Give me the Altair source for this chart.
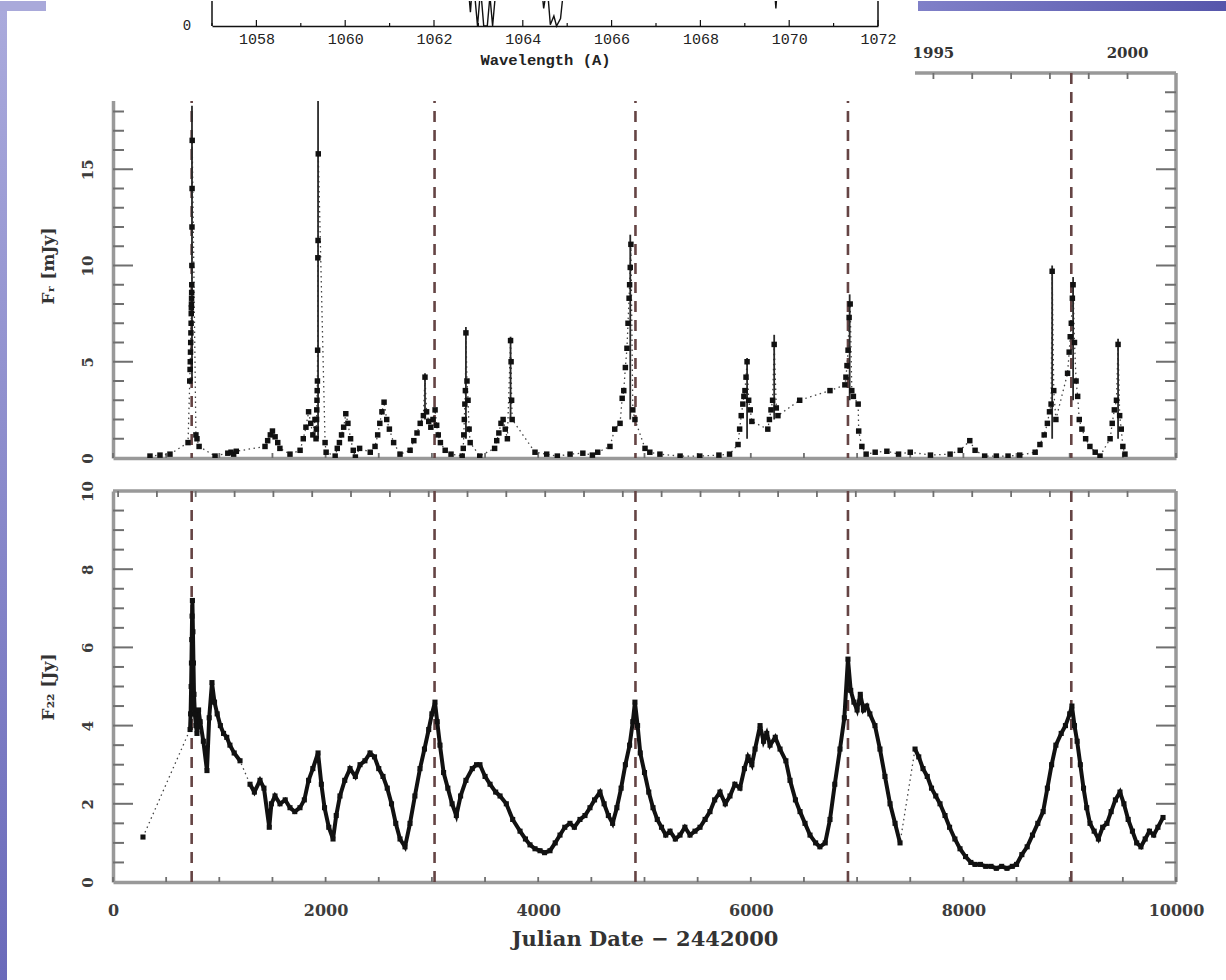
import altair as alt
import pandas as pd

# ---------------- data ----------------
# spectrum fragment (top strip)
spec_wave = [1057.0, 1062.75, 1062.82, 1062.88, 1062.98, 1063.05, 1063.12, 1063.20, 1063.26,
             1063.32, 1063.42, 1064.40, 1064.47, 1064.55, 1064.62, 1064.70, 1064.76, 1064.85,
             1064.95, 1069.65, 1069.70, 1069.75, 1072.0]
spec_flux = [2.0, 2.0, 0.55, 2.0, 0.0, 1.5, 0.0, 0.0, 1.2, 0.0, 2.0, 2.0, 0.7, 1.6, 0.05, 0.4,
             0.0, 0.3, 2.0, 2.0, 0.7, 2.0, 2.0]
spec_major = [1058, 1060, 1062, 1064, 1066, 1068, 1070, 1072]
spec_minor = [1057, 1059, 1061, 1063, 1065, 1067, 1069, 1071]

# upper panel (optical flux, mJy)
opt_day = [348, 442, 536, 706, 722, 725, 727, 729, 731, 733, 735, 736, 737, 738, 739, 740, 741,
           742, 743, 744, 745, 780, 790, 810, 960, 1080, 1110, 1135, 1160, 1430, 1455, 1480,
           1500, 1525, 1550, 1570, 1665, 1760, 1790, 1815, 1840, 1860, 1880, 1900, 1910, 1913,
           1915, 1917, 1919, 1921, 1923, 1925, 1927, 1929, 1931, 1995, 2005, 2090, 2110, 2130,
           2150, 2170, 2190, 2210, 2235, 2260, 2280, 2320, 2420, 2465, 2490, 2510, 2530, 2550,
           2575, 2600, 2640, 2700, 2795, 2830, 2860, 2890, 2920, 2935, 2950, 2970, 2990, 3010,
           3030, 3045, 3060, 3080, 3125, 3180, 3285, 3295, 3300, 3305, 3310, 3315, 3320, 3330,
           3340, 3350, 3360, 3450, 3590, 3610, 3630, 3650, 3670, 3690, 3710, 3740, 3745, 3750,
           3755, 3970, 4080, 4180, 4300, 4420, 4510, 4560, 4675, 4720, 4770, 4790, 4805, 4820,
           4835, 4845, 4855, 4860, 4866, 4872, 4890, 4910, 5005, 5050, 5145, 5335, 5520, 5700,
           5800, 5880, 5895, 5910, 5925, 5935, 5945, 5955, 5965, 5980, 5995, 6010, 6160, 6175,
           6190, 6205, 6220, 6240, 6255, 6460, 6745, 6885, 6895, 6905, 6915, 6925, 6935, 6950,
           6965, 7010, 7015, 7045, 7085, 7170, 7280, 7390, 7500, 7690, 7875, 7970, 8060, 8110,
           8200, 8310, 8420, 8530, 8675, 8720, 8760, 8790, 8810, 8825, 8835, 8850, 8870, 8980,
           8995, 9005, 9015, 9025, 9032, 9045, 9060, 9075, 9090, 9115, 9150, 9190, 9240, 9285,
           9380, 9400, 9420, 9440, 9455, 9470, 9485, 9500, 9520]
opt_flux = [0.1, 0.15, 0.2, 0.8, 4.0, 4.6, 5.0, 5.5, 6.0, 6.5, 7.0, 7.5, 7.8, 8.0, 8.3, 8.6, 9.0,
            10.0, 12.0, 14.0, 16.5, 1.2, 1.0, 0.6, 0.1, 0.25, 0.3, 0.2, 0.35, 0.6, 0.9, 1.2,
            1.4, 1.1, 0.8, 0.5, 0.2, 0.4, 1.0, 1.6, 2.4, 1.8, 1.2, 2.0, 1.0, 1.5,
            2.0, 2.5, 3.0, 3.5, 4.0, 5.6, 10.4, 11.3, 15.8, 0.8, 0.3, 0.1, 0.5, 0.8,
            1.2, 1.6, 2.3, 1.8, 1.0, 0.4, 0.05, 0.5, 0.3, 0.6, 1.2, 1.8, 2.4, 2.9,
            2.0, 1.5, 0.8, 0.2, 0.4, 0.9, 1.3, 1.8, 2.2, 4.2, 2.4, 1.9, 1.6, 2.0,
            2.5, 1.7, 1.2, 0.8, 0.4, 0.2, 0.1, 0.5, 1.2, 2.0, 2.8, 3.5, 6.5, 4.0,
            3.0, 1.5, 0.8, 0.1, 0.5, 0.9, 1.3, 1.8, 2.0, 1.5, 1.0, 6.1, 5.0, 3.0,
            2.0, 0.3, 0.2, 0.1, 0.2, 0.25, 0.15, 0.3, 0.6, 1.5, 1.8, 3.1, 3.5, 4.7,
            5.7, 7.0, 8.3, 9.0, 9.9, 11.1, 2.5, 2.0, 0.5, 0.3, 0.2, 0.1, 0.1, 0.15,
            0.2, 0.7, 1.5, 2.2, 2.8, 3.2, 3.5, 4.2, 5.0, 3.0, 2.5, 1.9, 1.5, 2.0,
            2.5, 3.0, 5.9, 2.6, 2.2, 3.0, 3.5, 3.8, 4.2, 4.8, 5.6, 7.3, 8.0, 3.5,
            3.2, 2.8, 1.4, 0.6, 0.2, 0.3, 0.35, 0.2, 0.3, 0.15, 0.2, 0.4, 0.9, 0.4,
            0.1, 0.1, 0.1, 0.15, 0.3, 0.7, 1.2, 1.8, 2.4, 2.8, 9.7, 3.5, 2.0, 4.4,
            5.5, 6.3, 7.0, 8.3, 9.0, 6.0, 4.0, 3.2, 2.0, 1.5, 1.0, 0.6, 0.3, 0.1,
            1.0, 1.8, 2.5, 3.0, 5.9, 2.2, 1.5, 0.6, 0.2]
err_day = [743, 1929, 2935, 3320, 3740, 4866, 5965, 6220, 6930, 8835, 9032, 9455]
err_lo = [4.0, 1.0, 2.0, 1.0, 2.0, 2.0, 1.0, 2.0, 3.0, 1.0, 3.0, 1.0]
err_hi = [18.3, 22.0, 4.4, 6.8, 6.3, 11.6, 5.2, 6.4, 8.5, 10.0, 9.4, 6.2]

# lower panel (radio flux, Jy)
rad_day = [282, 725, 730, 735, 738, 741, 744, 747, 752, 757, 762, 770, 780, 790, 805, 820, 850,
           884, 905, 931, 955, 980, 1010, 1040, 1070, 1100, 1140, 1195, 1289, 1330, 1383, 1420,
           1470, 1490, 1524, 1571, 1620, 1665, 1710, 1759, 1800, 1840, 1880, 1929, 1960, 1990,
           2030, 2070, 2100, 2135, 2180, 2230, 2280, 2324, 2370, 2418, 2460, 2500, 2540, 2580,
           2620, 2660, 2700, 2747, 2794, 2840, 2888, 2930, 2970, 3000, 3029, 3050, 3076, 3110,
           3150, 3190, 3230, 3270, 3320, 3380, 3420, 3452, 3500, 3547, 3600, 3641, 3700, 3760,
           3829, 3880, 3923, 3970, 4017, 4060, 4111, 4160, 4205, 4250, 4299, 4340, 4393, 4440,
           4487, 4530, 4581, 4620, 4660, 4700, 4740, 4780, 4820, 4860, 4890, 4910, 4935, 4960,
           5000, 5040, 5080, 5120, 5160, 5200, 5240, 5290, 5334, 5380, 5428, 5475, 5522, 5570,
           5616, 5660, 5710, 5760, 5804, 5850, 5898, 5940, 5974, 6010, 6040, 6087, 6120, 6150,
           6181, 6230, 6275, 6330, 6369, 6420, 6463, 6510, 6557, 6610, 6650, 6700, 6745, 6790,
           6839, 6880, 6914, 6940, 6970, 7000, 7030, 7060, 7090, 7120, 7168, 7215, 7262, 7310,
           7357, 7404, 7545, 7580, 7620, 7660, 7700, 7740, 7780, 7827, 7870, 7920, 7968, 8020,
           8070, 8109, 8160, 8210, 8260, 8310, 8360, 8410, 8460, 8500, 8550, 8600, 8650, 8700,
           8750, 8790, 8830, 8870, 8920, 8960, 9000, 9021, 9045, 9070, 9100, 9130, 9160, 9191,
           9230, 9270, 9310, 9350, 9390, 9430, 9473, 9510, 9550, 9590, 9630, 9670, 9710, 9750,
           9790, 9830, 9878]
rad_flux = [1.15, 3.9, 4.3, 5.0, 5.6, 6.2, 6.8, 7.2, 6.4, 5.6, 4.8, 4.3, 4.0, 3.8, 4.4, 4.1, 3.6,
            2.85, 4.2, 5.1, 4.6, 4.3, 4.0, 3.8, 3.7, 3.5, 3.3, 3.1, 2.5, 2.3, 2.6, 2.4,
            1.4, 2.0, 2.2, 2.0, 2.1, 1.9, 1.8, 1.9, 2.1, 2.6, 2.9, 3.3, 2.5, 1.9,
            1.4, 1.1, 1.7, 2.2, 2.6, 2.9, 2.7, 3.0, 3.1, 3.3, 3.2, 2.9, 2.7, 2.4,
            2.0, 1.5, 1.1, 0.9, 1.5, 2.2, 2.9, 3.4, 3.9, 4.3, 4.6, 4.1, 3.5, 2.8,
            2.4, 2.0, 1.7, 2.2, 2.6, 2.9, 3.0, 3.0, 2.7, 2.5, 2.3, 2.2, 2.0, 1.6,
            1.3, 1.1, 0.95, 0.85, 0.8, 0.75, 0.8, 1.0, 1.2, 1.4, 1.5, 1.4, 1.6, 1.7,
            1.9, 2.1, 2.3, 2.0, 1.7, 1.5, 1.9, 2.4, 3.0, 3.5, 4.1, 4.6, 4.0, 3.3,
            2.8, 2.3, 1.9, 1.6, 1.4, 1.2, 1.3, 1.1, 1.2, 1.4, 1.2, 1.3, 1.4, 1.6,
            1.8, 2.1, 2.3, 2.0, 2.2, 2.5, 2.4, 2.9, 3.2, 3.0, 3.4, 4.0, 3.6, 3.8,
            3.5, 3.7, 3.4, 3.1, 2.6, 2.1, 1.8, 1.5, 1.2, 1.0, 0.9, 1.0, 1.6, 2.5,
            3.4, 4.2, 5.7, 4.9, 4.6, 4.4, 4.8, 4.4, 4.5, 4.3, 4.0, 3.4, 2.7, 2.0,
            1.5, 1.0, 3.4, 3.2, 2.9, 2.7, 2.4, 2.2, 2.0, 1.7, 1.4, 1.1, 0.85, 0.65,
            0.5, 0.45, 0.45, 0.4, 0.4, 0.35, 0.4, 0.35, 0.4, 0.45, 0.7, 0.9, 1.2, 1.5,
            1.8, 2.4, 3.0, 3.5, 3.8, 4.0, 4.3, 4.5, 4.0, 3.6, 3.0, 2.4, 1.9, 1.5,
            1.3, 1.1, 1.4, 1.5, 1.8, 2.1, 2.3, 2.0, 1.6, 1.3, 1.0, 0.9, 1.1, 1.3,
            1.2, 1.4, 1.65]

flare_day = [740, 3025, 4915, 6914, 9015]

x_tick_day = [0, 500, 1000, 1500, 2000, 2500, 3000, 3500, 4000, 4500, 5000, 5500, 6000, 6500,
              7000, 7500, 8000, 8500, 9000, 9500, 10000]
x_label_day = [0, 2000, 4000, 6000, 8000, 10000]
year_tick_day = [48, 413, 778, 1144, 1509, 1874, 2239, 2605, 2970, 3335, 3700, 4066, 4431, 4796,
                 5161, 5527, 5892, 6257, 6622, 6988, 7353, 7718, 8083, 8449, 8814, 9179, 9544]
year_label = ["1995", "2000"]
year_label_day = [7718, 9544]

opt_major = [5, 10, 15]
opt_minor = [1, 2, 3, 4, 6, 7, 8, 9, 11, 12, 13, 14, 16, 17, 18, 19]
rad_major = [2, 4, 6, 8]
rad_minor = [0.5, 1, 1.5, 2.5, 3, 3.5, 4.5, 5, 5.5, 6.5, 7, 7.5, 8.5, 9, 9.5]

# ---------------- layout / style ----------------
W, HF, H1, H2, GAP, LEFT = 1063, 39, 385, 391, 33, 113
SERIF = "DejaVu Serif"
MONO = "Liberation Mono"
FRAME = "#999999"
TICK = "#6f6f6f"
DASH = "#654444"
INK = "#111111"

dummy = pd.DataFrame({"a": [0]})


def mix(c0, c1, t):
    a = [int(c0[i:i + 2], 16) for i in (1, 3, 5)]
    b = [int(c1[i:i + 2], 16) for i in (1, 3, 5)]
    return "#" + "".join(f"{round(a[k] + (b[k] - a[k]) * t):02x}" for k in range(3))


STRIP_TOP, STRIP_BOT = "#ababdc", "#6a6aba"


def vgrad(y0, y1):
    return alt.LinearGradient(
        gradient="linear",
        stops=[alt.GradientStop(color=mix(STRIP_TOP, STRIP_BOT, y0 / 980), offset=0),
               alt.GradientStop(color=mix(STRIP_TOP, STRIP_BOT, y1 / 980), offset=1)],
        x1=0, x2=0, y1=0, y2=1)


def strip(img_top, rel_h):
    return alt.Chart(dummy).mark_rect(color=vgrad(img_top, img_top + rel_h)).encode(
        x=alt.value(-LEFT), x2=alt.value(-LEFT + 7), y=alt.value(0), y2=alt.value(rel_h))


# ---------------- spectrum fragment ----------------
fx = alt.Scale(domain=[1057, 1072], range=[99, 765], nice=False, zero=False)
fy = alt.Scale(domain=[0, 1], range=[25, 0], nice=False, zero=False)
f_axis = alt.Axis(
    values=spec_major, format="d", orient="bottom", offset=-14, domainColor=INK,
    domainWidth=1.5, ticks=False, labelFont=MONO, labelFontSize=15, labelFontWeight="normal",
    labelColor="#222", labelPadding=5, labelFlush=False, title="Wavelength (A)",
    titleFont=MONO, titleFontSize=15.5, titleFontWeight="bold", titleColor="#222",
    titlePadding=6)


def FX():
    return alt.X("w:Q", scale=fx, axis=f_axis)


spec_df = pd.DataFrame({"w": spec_wave, "f": spec_flux})
spec_line = alt.Chart(spec_df).mark_line(color=INK, strokeWidth=1.4, clip=True).encode(
    x=FX(), y=alt.Y("f:Q", scale=fy, axis=None))
spec_major_t = alt.Chart(pd.DataFrame({"w": spec_major})).mark_rule(color=INK, strokeWidth=1.2).encode(
    x=FX(), y=alt.value(25), y2=alt.value(19))
spec_minor_t = alt.Chart(pd.DataFrame({"w": spec_minor})).mark_rule(color=INK, strokeWidth=1.2).encode(
    x=FX(), y=alt.value(25), y2=alt.value(22))
spec_sides = alt.Chart(pd.DataFrame({"w": [1057, 1072]})).mark_rule(color=INK, strokeWidth=1.5).encode(
    x=FX(), y=alt.value(0), y2=alt.value(25))
spec_zero = alt.Chart(pd.DataFrame({"w": [1057], "t": ["0"]})).mark_text(
    font=MONO, fontSize=14, color="#222", dx=-25, align="center", baseline="middle").encode(
    x=FX(), y=alt.value(25), text="t:N")
corner_patch = alt.Chart(dummy).mark_rect(color="#a9a9da").encode(
    x=alt.value(-LEFT), x2=alt.value(-LEFT + 46), y=alt.value(0), y2=alt.value(10))
top_band = alt.Chart(dummy).mark_rect(color=alt.LinearGradient(
    gradient="linear",
    stops=[alt.GradientStop(color="#8080c8", offset=0), alt.GradientStop(color="#5656ab", offset=1)],
    x1=0, x2=1, y1=0, y2=0)).encode(
    x=alt.value(918 - LEFT), x2=alt.value(1226 - LEFT), y=alt.value(0), y2=alt.value(10))

frag = alt.layer(spec_line, spec_major_t, spec_minor_t, spec_sides, spec_zero,
                 strip(0, HF + GAP), corner_patch, top_band).properties(width=W, height=HF)

# ---------------- shared pieces for the two panels ----------------
xs = alt.Scale(domain=[0, 10000], nice=False, zero=False)


def panel(ys, ytop, H, ax_x, ax_y, majors, minors, data_layers, extra_layers, strip_top):
    def X(field="day"):
        return alt.X(f"{field}:Q", scale=xs, axis=ax_x)

    def Y(field):
        return alt.Y(f"{field}:Q", scale=ys, axis=ax_y)

    layers = []
    # frame: right + top
    layers.append(alt.Chart(dummy).mark_rule(color=FRAME, strokeWidth=3.5).encode(
        x=alt.X(datum=10000, scale=xs, axis=ax_x), y=alt.Y(datum=0, scale=ys, axis=ax_y),
        y2=alt.Y2(datum=ytop)))
    layers.append(alt.Chart(dummy).mark_rule(color=FRAME, strokeWidth=3.5).encode(
        x=alt.X(datum=0, scale=xs, axis=ax_x), x2=alt.X2(datum=10000),
        y=alt.Y(datum=ytop, scale=ys, axis=ax_y)))
    # y ticks (inward, both sides)
    for vals, length in ((majors, 20), (minors, 11)):
        df = pd.DataFrame({"v": vals})
        layers.append(alt.Chart(df).mark_rule(color=TICK, strokeWidth=2).encode(
            y=Y("v"), x=alt.value(0), x2=alt.value(length)))
        layers.append(alt.Chart(df).mark_rule(color=TICK, strokeWidth=2).encode(
            y=Y("v"), x=alt.value(W - length), x2=alt.value(W)))
    # x ticks: 500 d at bottom, calendar years at top (inward)
    layers.append(alt.Chart(pd.DataFrame({"day": x_tick_day})).mark_rule(
        color=TICK, strokeWidth=1.8).encode(x=X(), y=alt.value(H), y2=alt.value(H - 5)))
    layers.append(alt.Chart(pd.DataFrame({"day": year_tick_day})).mark_rule(
        color=TICK, strokeWidth=1.8).encode(x=X(), y=alt.value(0), y2=alt.value(6)))
    # outburst epochs
    layers.append(alt.Chart(pd.DataFrame({"day": flare_day})).mark_rule(
        color=DASH, strokeWidth=2.6, strokeDash=[11, 8]).encode(x=X()))
    for build in data_layers:
        layers.append(build(X, Y))
    layers.extend(extra_layers)
    layers.append(strip(strip_top, (H + GAP) if strip_top < 400 else (980 - strip_top)))
    return alt.layer(*layers).properties(width=W, height=H)


y1s = alt.Scale(domain=[0, 20], nice=False, zero=False)
y2s = alt.Scale(domain=[0, 10], nice=False, zero=False)

# ---------------- upper panel ----------------
opt_df = pd.DataFrame({"day": opt_day, "flux": opt_flux})
err_df = pd.DataFrame({"day": err_day, "lo": err_lo, "hi": err_hi})

opt_axis_x = alt.Axis(orient="bottom", labels=False, title=None, ticks=False)
opt_axis_y = alt.Axis(values=[0, 5, 10, 15], format="d", labelAngle=270, labelAlign="center",
                      labelBaseline="bottom", labelPadding=18, title="F\u1d63 [mJy]",
                      titleAngle=270, titleX=-65, titleY=H1 / 2, titleAlign="center",
                      titleBaseline="middle", ticks=False, orient="left")

opt_layers = [
    lambda X, Y: alt.Chart(opt_df).mark_line(color="#444", strokeWidth=1.3,
                                             strokeDash=[1.5, 3.5], clip=True).encode(
        x=X(), y=Y("flux")),
    lambda X, Y: alt.Chart(err_df).mark_rule(color="#2a2a2a", strokeWidth=1.8, clip=True).encode(
        x=X(), y=Y("lo"), y2="hi:Q"),
    lambda X, Y: alt.Chart(opt_df).mark_point(filled=True, shape="square", size=30, color=INK,
                                              opacity=1, clip=True).encode(x=X(), y=Y("flux")),
]
mask = alt.Chart(dummy).mark_rect(color="white").encode(
    x=alt.value(-105), x2=alt.value(915 - LEFT), y=alt.value(-4), y2=alt.value(100 - 72))
years = alt.Chart(pd.DataFrame({"day": year_label_day, "lab": year_label})).mark_text(
    font=SERIF, fontWeight="bold", fontSize=15, color="#333", baseline="middle").encode(
    x=alt.X("day:Q", scale=xs, axis=opt_axis_x), y=alt.value(-20), text="lab:N")

upper = panel(y1s, 20, H1, opt_axis_x, opt_axis_y, opt_major, opt_minor, opt_layers,
              [mask, years], 72)

# ---------------- lower panel ----------------
seg, s = [], 0
for i, d in enumerate(rad_day):
    if i > 0 and d - rad_day[i - 1] > 70:
        s += 1
    seg.append(s)
rad_df = pd.DataFrame({"day": rad_day, "flux": rad_flux, "seg": seg})

rad_axis_x = alt.Axis(orient="bottom", values=x_label_day, format="d", labelPadding=20,
                      labelFlush=False, labelFontSize=16, ticks=False,
                      title="Julian Date \u2212 2442000", titleFontSize=21, titlePadding=10)
rad_axis_y = alt.Axis(values=[0, 2, 4, 6, 8, 10], format="d", labelAngle=270, labelAlign="center",
                      labelBaseline="bottom", labelPadding=18, title="F\u2082\u2082 [Jy]",
                      titleAngle=270, titleX=-65, titleY=H2 / 2, titleAlign="center",
                      titleBaseline="middle", ticks=False, orient="left")

rad_layers = [
    lambda X, Y: alt.Chart(rad_df).mark_line(color="#444", strokeWidth=1.3,
                                             strokeDash=[1.5, 3.5], clip=True).encode(
        x=X(), y=Y("flux")),
    lambda X, Y: alt.Chart(rad_df).mark_line(color=INK, strokeWidth=4, clip=True).encode(
        x=X(), y=Y("flux"), detail="seg:N"),
    lambda X, Y: alt.Chart(rad_df).mark_point(filled=True, shape="square", size=26, color=INK,
                                              opacity=1, clip=True).encode(x=X(), y=Y("flux")),
]

lower = panel(y2s, 10, H2, rad_axis_x, rad_axis_y, rad_major, rad_minor, rad_layers, [], 490)

chart = alt.vconcat(frag, upper, lower, spacing=GAP, bounds="flush").resolve_scale(
    x="independent", y="independent"
).properties(padding=0, background="white").configure_view(stroke=None).configure_axis(
    grid=False, domainColor=FRAME, domainWidth=3.5, labelFont=SERIF, labelFontWeight="bold",
    labelFontSize=15, labelColor="#3c3c3c", titleFont=SERIF, titleFontWeight="bold",
    titleFontSize=17, titleColor="#333333")

chart.save("out.html", embed_options={"renderer": "svg", "actions": False})
